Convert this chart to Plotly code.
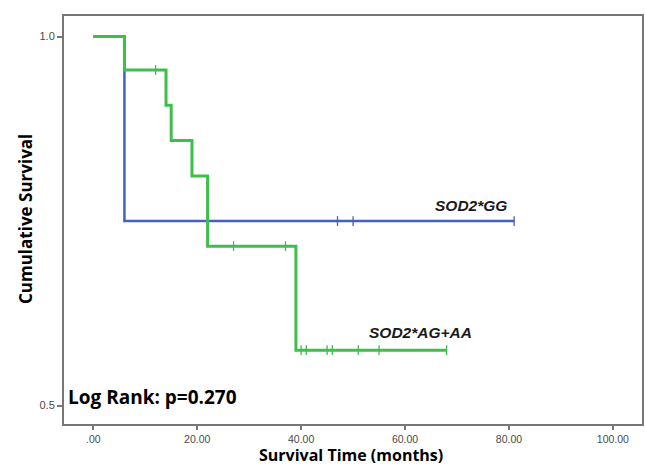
import numpy as np
import plotly.graph_objects as go

# ---- data ----
gg_times = [0, 6, 81]
gg_surv = [1.0, 0.75, 0.75]
gg_censored = [47, 50, 81]

ag_times = [0, 6, 14, 15, 19, 22, 39, 68]
ag_surv = [1.0, 0.9545, 0.907, 0.859, 0.811, 0.716, 0.575, 0.575]
ag_censored = [12, 27, 37, 40, 41, 45, 46, 51, 55, 68]

x_tickvals = [0, 20, 40, 60, 80, 100]
x_ticktext = [".00", "20.00", "40.00", "60.00", "80.00", "100.00"]
y_tickvals = [0.5, 1.0]
y_ticktext = ["0.5", "1.0"]

GREEN = "#3dbf4a"
BLUE = "#4561bd"


def step_value(times, surv, t):
    idx = np.searchsorted(np.array(times), t, side="right") - 1
    return surv[idx]


fig = go.Figure()

# blue group (drawn first, green on top)
fig.add_trace(go.Scatter(x=gg_times, y=gg_surv, mode="lines", line_shape="hv",
                         line=dict(color=BLUE, width=2.5), showlegend=False, hoverinfo="skip"))
fig.add_trace(go.Scatter(x=gg_censored, y=[step_value(gg_times, gg_surv, t) for t in gg_censored],
                         mode="markers", marker=dict(symbol="line-ns", size=7,
                                                     line=dict(color=BLUE, width=1.3)),
                         showlegend=False, hoverinfo="skip"))

fig.add_trace(go.Scatter(x=ag_times, y=ag_surv, mode="lines", line_shape="hv",
                         line=dict(color=GREEN, width=3), showlegend=False, hoverinfo="skip"))
fig.add_trace(go.Scatter(x=ag_censored, y=[step_value(ag_times, ag_surv, t) for t in ag_censored],
                         mode="markers", marker=dict(symbol="line-ns", size=7,
                                                     line=dict(color=GREEN, width=1.3)),
                         showlegend=False, hoverinfo="skip"))

label_font = dict(family="Liberation Sans, Arial", size=15.5, color="#1a1a1a")
fig.add_annotation(x=80.0, y=0.771, text="<b><i>SOD2*GG</i></b>", showarrow=False,
                   xanchor="right", yanchor="middle", font=label_font)
fig.add_annotation(x=73.2, y=0.599, text="<b><i>SOD2*AG+AA</i></b>", showarrow=False,
                   xanchor="right", yanchor="middle", font=label_font)
fig.add_annotation(x=-5.3, y=0.5115, text="<b>Log Rank: p=0.270</b>", showarrow=False,
                   xanchor="left", yanchor="middle",
                   font=dict(family="Open Sans", size=19, color="#000000"))

fig.add_annotation(xref="paper", yref="paper", x=0.4974, y=-0.076,
                   text="<b>Survival Time (months)</b>", showarrow=False,
                   xanchor="center", yanchor="middle",
                   font=dict(family="Open Sans", size=16, color="#000000"))
fig.add_annotation(xref="paper", yref="paper", x=-0.0657, y=0.5025,
                   text="<b>Cumulative Survival</b>", showarrow=False, textangle=-90,
                   xanchor="center", yanchor="middle",
                   font=dict(family="Open Sans", size=17, color="#000000"))

fig.update_xaxes(range=[-5.63, 105.6], tickvals=x_tickvals, ticktext=x_ticktext,
                 showgrid=False, zeroline=False, showline=True, mirror=True,
                 linecolor="#777777", linewidth=2, ticks="outside", ticklen=4,
                 tickcolor="#777777", tickwidth=1.5,
                 tickfont=dict(family="Liberation Sans, Arial", size=10.5, color="#4a4a4a"))
fig.update_yaxes(range=[0.475, 1.0278], tickvals=y_tickvals, ticktext=y_ticktext,
                 showgrid=False, zeroline=False, showline=True, mirror=True,
                 linecolor="#777777", linewidth=2, ticks="outside", ticklen=5,
                 tickcolor="#777777", tickwidth=1.5,
                 tickfont=dict(family="Liberation Sans, Arial", size=11, color="#4a4a4a"))

fig.update_layout(width=645, height=465, paper_bgcolor="white", plot_bgcolor="white",
                  margin=dict(l=64, r=3, t=16, b=41, autoexpand=False))

fig.write_html("out.html", config={"displayModeBar": False},
               post_script="document.body.style.margin='0px';")
